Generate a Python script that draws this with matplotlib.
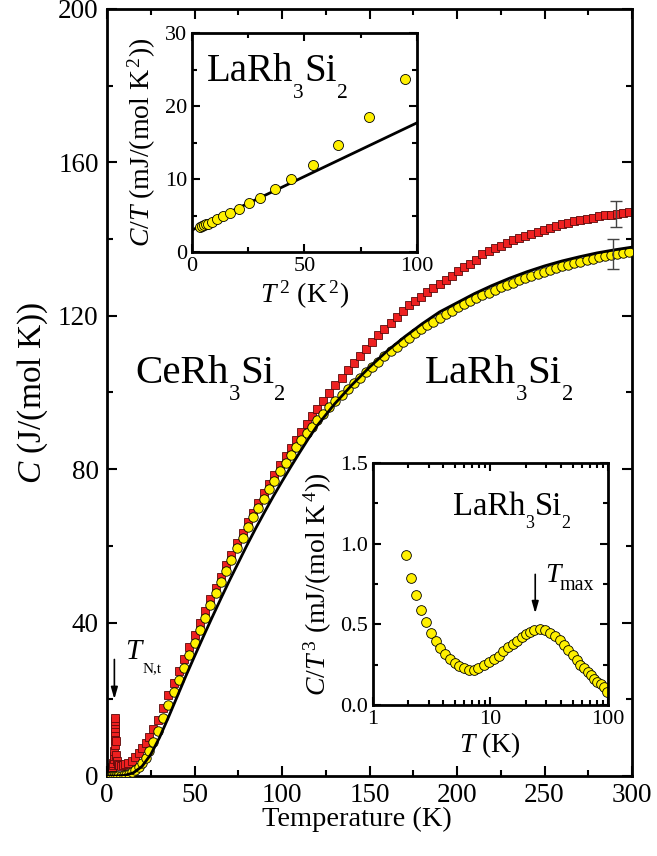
import matplotlib
matplotlib.use("Agg")
import matplotlib.pyplot as plt
from matplotlib.ticker import MultipleLocator, FixedLocator, NullFormatter, FormatStrFormatter
from matplotlib.transforms import IdentityTransform

plt.rcParams['font.family'] = ['Liberation Serif', 'DejaVu Serif']
plt.rcParams['mathtext.fontset'] = 'custom'
plt.rcParams['mathtext.rm'] = 'Liberation Serif'
plt.rcParams['mathtext.it'] = 'Liberation Serif:italic'
plt.rcParams['mathtext.bf'] = 'Liberation Serif:bold'

# ---- main panel: C(T) ----
# CeRh3Si2 (red squares)
ce_T = [1.9, 2.1, 2.3, 2.5, 2.7, 2.9, 3.1, 3.3, 3.5, 3.7, 3.9, 4.1, 4.3, 4.4, 4.5, 4.6,
        4.65, 4.7, 4.75, 4.8, 5.0, 5.2, 5.5, 6.0, 7.0, 8.0, 9.0,
        10, 12, 14, 16, 18, 20, 22, 24, 26.5, 29, 32, 35, 38, 41, 44, 47, 50, 53, 56, 59,
        62, 65, 68, 71, 74.5, 77.5, 80.5, 83.5, 86.5, 89.5, 92.5, 95.5, 99, 102, 105, 108,
        111, 114, 117, 120, 123.5, 127, 130.5, 134, 137.5, 141, 144.5, 148, 151.5, 155,
        158.5, 162, 165.5, 169, 172.5, 176, 179.5, 183, 186.5, 190, 193.5, 197, 200.5,
        204, 207.5, 211, 214.5, 218, 221.5, 225, 228.5, 232, 235.5, 239, 242.5, 246,
        249.5, 253, 256.5, 260, 263.5, 267, 270.5, 274, 277.5, 281, 284.5, 288, 291.5,
        295, 298.5]
ce_C = [0.6, 0.8, 1.0, 1.3, 1.6, 2.0, 2.4, 2.9, 3.5, 4.3, 5.3, 6.5, 8.0, 9.5, 10.5, 11.5,
        12.5, 13.5, 14.3, 15.0, 9.0, 5.5, 4.0, 3.2, 2.8, 2.7, 2.8,
        3.0, 3.4, 4.0, 4.9, 6.0, 7.2, 8.6, 10.2, 12.3, 14.6, 17.8, 21.1, 24.3, 27.5, 30.6,
        33.7, 36.8, 39.9, 43.0, 46.1,
        49.1, 52.0, 54.9, 57.7, 60.8, 63.4, 66.1, 68.7, 71.2, 73.7, 76.1, 78.5, 81.2, 83.4,
        85.6, 87.7, 89.8, 91.8, 93.8, 95.7, 97.8, 99.9, 101.9, 103.9, 105.8, 107.7, 109.6,
        111.4, 113.2, 114.9, 116.6, 118.2, 119.8, 121.3, 122.8, 123.9, 125.0, 126.1, 127.2,
        128.3, 129.4, 130.5, 131.6, 132.6, 133.6, 134.6, 136.0, 136.8, 137.6, 138.3, 139.0,
        139.7, 140.3, 140.9, 141.4, 141.9, 142.4, 142.9, 143.4, 143.9, 144.3, 144.7, 145.0,
        145.3, 145.6, 145.9, 146.2, 146.4, 146.6, 146.8, 147.0]

# LaRh3Si2 (yellow circles)
la_T = [2, 3, 4, 5, 6.5, 8, 9.5, 11, 12.5, 14, 16, 18, 20, 22, 24, 26.5, 29, 32, 35, 38,
        41, 44, 47, 50, 53, 56, 59, 62, 65, 68, 71, 74.5, 77.5, 80.5, 83.5, 86.5, 89.5,
        92.5, 95.5, 99, 102, 105, 108, 111, 114, 117, 120, 123.5, 127, 130.5, 134, 137.5,
        141, 144.5, 148, 151.5, 155, 158.5, 162, 165.5, 169, 172.5, 176, 179.5, 183, 186.5,
        190, 193.5, 197, 200.5, 204, 207.5, 211, 214.5, 218, 221.5, 225, 228.5, 232,
        235.5, 239, 242.5, 246, 249.5, 253, 256.5, 260, 263.5, 267, 270.5, 274, 277.5,
        281, 284.5, 288, 291.5, 295, 298.5]
la_C = [0.0, 0.0, 0.02, 0.03, 0.06, 0.12, 0.22, 0.38, 0.6, 0.95, 1.5, 2.4, 3.5, 4.8, 6.4,
        8.8, 11.6, 15.0, 18.5, 21.8, 25.0, 28.2, 31.5, 34.8, 38.0, 41.2, 44.5, 47.6, 50.6,
        53.5, 56.4, 59.4, 62.0, 64.8, 67.4, 69.9, 72.3, 74.7, 77.0, 79.6, 81.7, 83.8, 85.7,
        87.6, 89.4, 91.1, 92.7, 94.4, 96.1, 97.7, 99.3, 100.9, 102.4, 103.9, 105.3, 106.7,
        108.0, 109.4, 110.7, 111.9, 113.1, 114.3, 115.4, 116.5, 117.5, 118.5, 119.5, 120.4,
        121.3, 122.2, 123.0, 123.8, 124.6, 125.3, 126.0, 126.7, 127.4, 128.0, 128.6, 129.2,
        129.8, 130.4, 130.9, 131.4, 131.9, 132.4, 132.9, 133.3, 133.7, 134.1, 134.5, 134.9,
        135.2, 135.5, 135.8, 136.1, 136.4, 136.6]

# phonon fit (black line)
fit_T = [0, 5, 10, 15, 20, 25, 30, 35, 40, 45, 50, 55, 60, 65, 70, 75, 80, 85, 90, 95,
         100, 105, 110, 115, 120, 130, 140, 150, 160, 170, 180, 190, 200, 210, 220, 230,
         240, 250, 260, 270, 280, 290, 300]
fit_C = [0, 0.01, 0.15, 0.8, 2.5, 5.6, 10.0, 15.2, 20.6, 26.0, 31.2, 36.3, 41.3, 46.2,
         51.0, 55.6, 60.2, 64.6, 68.8, 72.9, 76.8, 80.6, 84.3, 87.9, 91.3, 97.0, 102.0,
         106.6, 110.8, 114.5, 117.9, 121.0, 123.4, 125.8, 127.9, 129.8, 131.5, 133.0,
         134.3, 135.4, 136.4, 137.2, 137.9]

# error bars near 290 K
err_T = [291, 289]
err_C = [146.6, 136.1]
err_d = [3.4, 4.0]

# ---- inset 1: C/T vs T^2 ----
in1_T2 = [3.7, 4.4, 5.2, 6.1, 7.0, 8.9, 11.1, 13.8, 17.0, 20.7, 25.3, 30.4, 36.7, 44.1,
          53.6, 64.9, 78.5, 94.8]
in1_CT = [3.44, 3.55, 3.66, 3.78, 3.89, 4.17, 4.49, 4.9, 5.36, 5.95, 6.73, 7.42, 8.57,
          9.94, 11.96, 14.7, 18.5, 23.7]
in1_fit_x = [0, 100]
in1_fit_y = [3.0, 17.7]

# ---- inset 2: C/T^3 vs T ----
in2_T = [1.93, 2.13, 2.32, 2.57, 2.84, 3.13, 3.45, 3.76, 4.15, 4.54, 4.97, 5.45, 5.97,
         6.59, 7.21, 7.9, 8.9, 9.8, 10.7, 11.8, 12.9, 14.2, 15.6, 16.9, 18.5, 20.1, 21.8,
         23.7, 26.2, 28.9, 31.9, 35.3, 38.8, 42.3, 46.0, 50.0, 54.2, 58.1, 62.6, 67.0,
         71.5, 76.0, 81.2, 86.5, 91.6, 98]
in2_CT3 = [0.93, 0.79, 0.684, 0.588, 0.512, 0.447, 0.398, 0.353, 0.316, 0.284, 0.259,
           0.239, 0.227, 0.218, 0.218, 0.228, 0.247, 0.265, 0.284, 0.306, 0.333, 0.357,
           0.378, 0.398, 0.422, 0.439, 0.453, 0.467, 0.473, 0.463, 0.447, 0.429, 0.402,
           0.373, 0.341, 0.308, 0.280, 0.251, 0.229, 0.204, 0.184, 0.163, 0.145, 0.129,
           0.112, 0.082]

yellow = '#FFF000'
red = '#EE2020'
DPI = 100


def style_axes(ax, size, lw=2.0):
    for s in ax.spines.values():
        s.set_linewidth(lw)
    ax.tick_params(which='both', direction='in', top=True, right=True, width=1.5,
                   labelsize=size)
    ax.tick_params(which='major', length=7)
    ax.tick_params(which='minor', length=4)


def formula(ax, x, y, parts, size, sub=0.55, drop=0.42, kern=0.0):
    # text with Origin-like low subscripts, built piece by piece
    renderer = fig.canvas.get_renderer()
    xd, yd = ax.transData.transform((x, y))
    for s, is_sub in parts:
        fs = size * sub if is_sub else size
        yy = yd - drop * size * DPI / 72 if is_sub else yd
        if is_sub:
            xd += kern * size * DPI / 72
        t = fig.text(xd, yy, s, fontsize=fs, va='baseline', ha='left',
                     transform=IdentityTransform())
        xd += t.get_window_extent(renderer).width


fig = plt.figure(figsize=(6.57, 8.56), dpi=DPI)

ax = fig.add_axes([0.1629, 0.0935, 0.7991, 0.8960])
ax.plot(ce_T, ce_C, ls='none', marker='s', ms=6.0, mfc=red, mec='#5a0a0a', mew=0.6,
        zorder=2)
ax.plot(la_T, la_C, ls='none', marker='o', ms=6.8, mfc=yellow, mec='black', mew=0.6,
        zorder=3)
ax.plot(fit_T, fit_C, color='black', lw=2.0, zorder=4)
ax.errorbar(err_T, err_C, yerr=err_d, fmt='none', ecolor='#444444', elinewidth=1.0,
            capsize=4.5, capthick=1.0, zorder=5)
ax.set_xlim(0, 300)
ax.set_ylim(0, 200)
ax.xaxis.set_major_locator(MultipleLocator(50))
ax.xaxis.set_minor_locator(MultipleLocator(25))
ax.yaxis.set_major_locator(MultipleLocator(40))
ax.yaxis.set_minor_locator(MultipleLocator(20))
style_axes(ax, 19.5)
ax.tick_params(axis='x', pad=5)
ax.tick_params(axis='y', pad=6)
ax.set_xlabel('Temperature (K)', fontsize=20.5)
ax.xaxis.set_label_coords(0.476, -0.040)
ax.set_ylabel('$C$ (J/(mol K))', fontsize=24, labelpad=6)

formula(ax, 16, 102.5, [('CeRh', False), ('3', True), ('Si', False), ('2', True)], 29.5)
formula(ax, 181.7, 102.5, [('LaRh', False), ('3', True), ('Si', False), ('2', True)], 29.5)
formula(ax, 10.3, 30.6, [('$T$', False), ('N,t', True)], 21, sub=0.52, drop=0.45,
        kern=-0.1)
ax.annotate('', xy=(4.2, 19.3), xytext=(4.2, 31.1),
            arrowprops=dict(arrowstyle='-|>,head_width=0.2,head_length=0.7', lw=1.2,
                            color='black'))

# inset 1
ax1 = fig.add_axes([0.2922, 0.7056, 0.3425, 0.2558])
ax1.plot(in1_fit_x, in1_fit_y, color='black', lw=2.0, zorder=2)
ax1.plot(in1_T2, in1_CT, ls='none', marker='o', ms=7.2, mfc=yellow, mec='black',
         mew=0.6, zorder=3)
ax1.set_xlim(0, 100)
ax1.set_ylim(0, 30)
ax1.xaxis.set_major_locator(MultipleLocator(50))
ax1.xaxis.set_minor_locator(MultipleLocator(25))
ax1.yaxis.set_major_locator(MultipleLocator(10))
ax1.yaxis.set_minor_locator(MultipleLocator(5))
style_axes(ax1, 16)
ax1.tick_params(which='major', length=6)
ax1.tick_params(which='minor', length=3.5)
ax1.set_xlabel('$T^{\\,2}$ (K$^{\\,2}$)', fontsize=20, labelpad=2)
ax1.set_ylabel('$C/T$ (mJ/(mol K$^{\\,2}$))', fontsize=20, labelpad=5)
formula(ax1, 6.7, 23.4, [('LaRh', False), ('3', True), ('Si', False), ('2', True)], 28)

# inset 2
ax2 = fig.add_axes([0.567, 0.1764, 0.3584, 0.2827])
ax2.plot(in2_T, in2_CT3, ls='none', marker='o', ms=7.0, mfc=yellow, mec='black',
         mew=0.6)
ax2.set_xscale('log')
ax2.set_xlim(1, 100)
ax2.set_ylim(0, 1.5)
ax2.xaxis.set_major_locator(FixedLocator([1, 10, 100]))
ax2.set_xticklabels(['1', '10', '100'])
ax2.xaxis.set_minor_locator(FixedLocator([2, 3, 4, 5, 6, 7, 8, 9, 20, 30, 40, 50, 60,
                                          70, 80, 90]))
ax2.xaxis.set_minor_formatter(NullFormatter())
ax2.yaxis.set_major_locator(MultipleLocator(0.5))
ax2.yaxis.set_minor_locator(MultipleLocator(0.25))
ax2.yaxis.set_major_formatter(FormatStrFormatter('%.1f'))
style_axes(ax2, 16)
ax2.tick_params(which='major', length=6)
ax2.tick_params(which='minor', length=3.5)
ax2.set_xlabel('$T$ (K)', fontsize=20, labelpad=1)
ax2.set_ylabel('$C/T^{\\,3}$ (mJ/(mol K$^{\\,4}$))', fontsize=20, labelpad=4)
formula(ax2, 4.83, 1.18, [('LaRh', False), ('3', True), ('Si', False), ('2', True)], 23.5)
formula(ax2, 29.2, 0.765, [('$T$', False), ('max', True)], 20, sub=0.72, drop=0.3,
        kern=-0.15)
ax2.annotate('', xy=(24.1, 0.551), xytext=(24.1, 0.827),
             arrowprops=dict(arrowstyle='-|>,head_width=0.2,head_length=0.7', lw=1.2,
                             color='black'))

fig.savefig('out.png', dpi=DPI)
